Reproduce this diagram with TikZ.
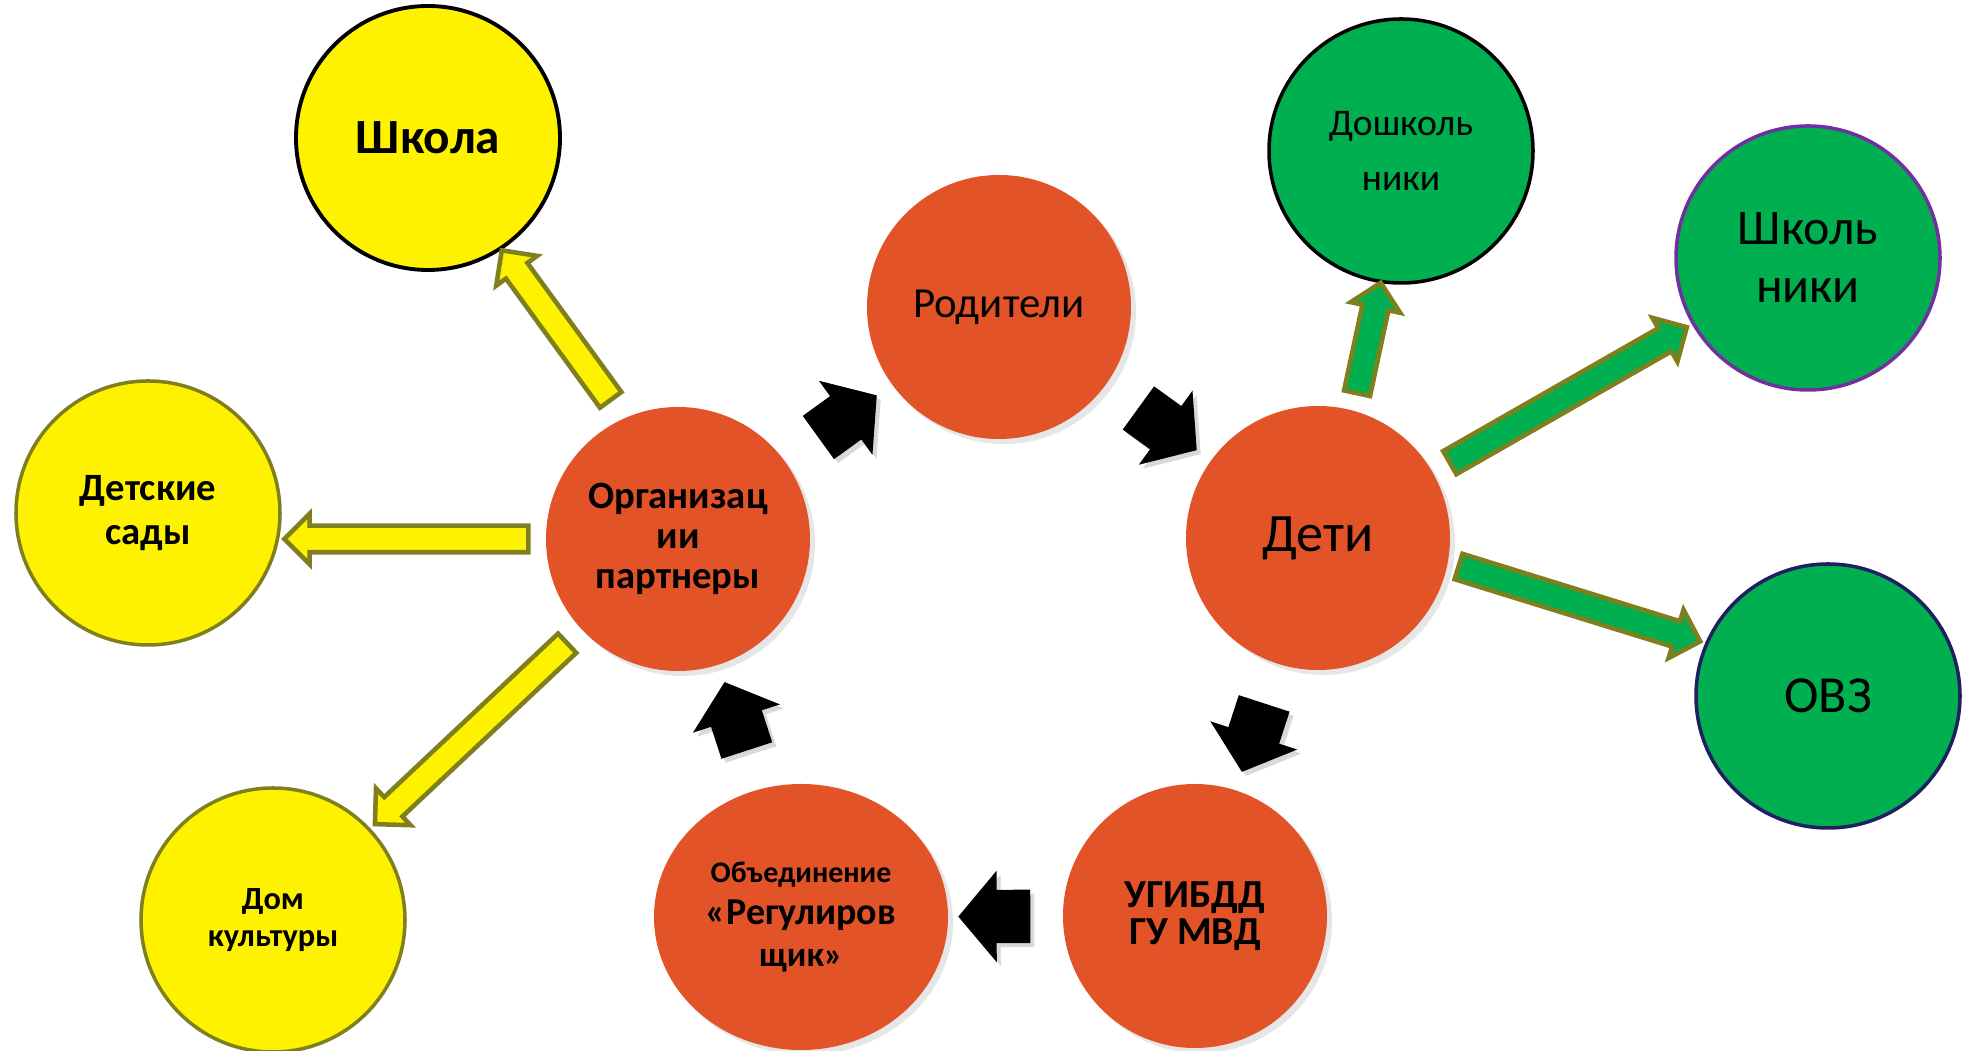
\documentclass[tikz,border=0pt]{standalone}
\usepackage{fontspec}
\setmainfont{Carlito}
\usetikzlibrary{shapes.geometric,shapes.arrows,shadows}
\definecolor{orng}{HTML}{E25328}
\definecolor{grn}{HTML}{00B050}
\definecolor{olv}{HTML}{7F7F1E}
\definecolor{purp}{HTML}{7030A0}
\definecolor{navyb}{HTML}{1F2060}

\begin{document}
\begin{tikzpicture}[
        circ/.style={circle,minimum size=2.64cm,inner sep=0pt,align=center},
        orngnode/.style={circ,fill=orng,drop shadow={opacity=.2,shadow xshift=.5mm,shadow yshift=-.5mm}},
        yelnode/.style={circ,fill=yellow,draw=olv,line width=1pt},
        grnnode/.style={circ,fill=grn,line width=1pt},
        blockarr/.style={single arrow,inner xsep=0pt,sloped,allow upside down,anchor=center},
        yarr/.style={blockarr,fill=yellow,draw=olv,line width=1.3pt,inner ysep=.11cm,
            minimum width=.46cm,single arrow head extend=.12cm},
        garr/.style={yarr,fill=grn},
        barr/.style={blockarr,fill=black,inner ysep=.26cm,minimum width=.9cm,
            single arrow head extend=.19cm,single arrow tip angle=100,minimum height=.72cm,
            drop shadow={opacity=.3,shadow xshift=.4mm,shadow yshift=-.4mm}}
    ]
    \useasboundingbox (0,0) rectangle (19.62,10.51);

    % partner side
    \node[yelnode,draw=black,line width=1.1pt,font=\fontsize{14}{17}\selectfont\bfseries]
        (school) at (4.28,9.13) {Школа};
    \node[yelnode,font=\fontsize{11}{12.5}\selectfont\bfseries]
        (kinder) at (1.48,5.38) {Детские\\сады};
    \node[yelnode,font=\fontsize{9.2}{10.7}\selectfont\bfseries]
        (culture) at (2.73,1.31) {Дом\\культуры};
    \node[orngnode,font=\fontsize{11}{11.4}\selectfont\bfseries]
        (org) at (6.78,5.12) {Организац\\ии\\партнеры};

    % the ring
    \node[orngnode,font=\fontsize{12.2}{14}\selectfont] (parents) at (9.99,7.44) {Родители};
    \node[orngnode,font=\fontsize{15.4}{18}\selectfont] (kids) at (13.18,5.13) {Дети};
    \node[orngnode,font=\fontsize{11.3}{10.7}\selectfont\bfseries]
        (gibdd) at (11.95,1.35) {УГИБДД\\ГУ МВД};
    \node[orngnode,ellipse,minimum width=2.94cm,minimum height=2.66cm,font=\bfseries]
        (club) at (8.01,1.34) {\fontsize{8.5}{11.1}\selectfont Объединение\\
        \fontsize{10.8}{11.1}\selectfont «Регулиров\\щик»};

    % children side
    \node[grnnode,draw=black,font=\fontsize{10.7}{15.6}\selectfont]
        (preschool) at (14.01,9.00) {Дошколь\\ники};
    \node[grnnode,draw=purp,font=\fontsize{14.2}{16.5}\selectfont]
        (pupils) at (18.08,7.93) {Школь\\ники};
    \node[grnnode,draw=navyb,font=\fontsize{14.8}{17}\selectfont]
        (ovz) at (18.28,3.55) {ОВЗ};

    % block arrows
    \path ([xshift=.34cm]org.center) -- ([xshift=-.08cm]school.center)
        node[yarr,pos=.52,minimum height=1.85cm] (a1) {};
    \path (org.center) -- (org.center -| kinder.center)
        node[yarr,midway,minimum height=2.44cm] (a2) {};
    \path (org) -- (culture) node[yarr,midway,minimum height=2.64cm] (a3) {};
    \path ([xshift=.08cm]kids.center) -- ([xshift=.08cm]preschool.center)
        node[garr,midway,minimum height=1.13cm] (a4) {};
    \path (kids) -- (pupils) node[garr,midway,minimum height=2.73cm] (a5) {};
    \path ([yshift=.15cm]kids.center) -- ([yshift=.15cm]ovz.center)
        node[garr,midway,minimum height=2.53cm] (a6) {};

    \path (org) -- (parents) node[barr,midway] (b1) {};
    \path (parents) -- (kids) node[barr,midway] (b2) {};
    \path (kids) -- (gibdd) node[barr,midway] (b3) {};
    \path (gibdd) -- (club) node[barr,midway] (b4) {};
    \path (club) -- (org) node[barr,midway] (b5) {};
\end{tikzpicture}
\end{document}
